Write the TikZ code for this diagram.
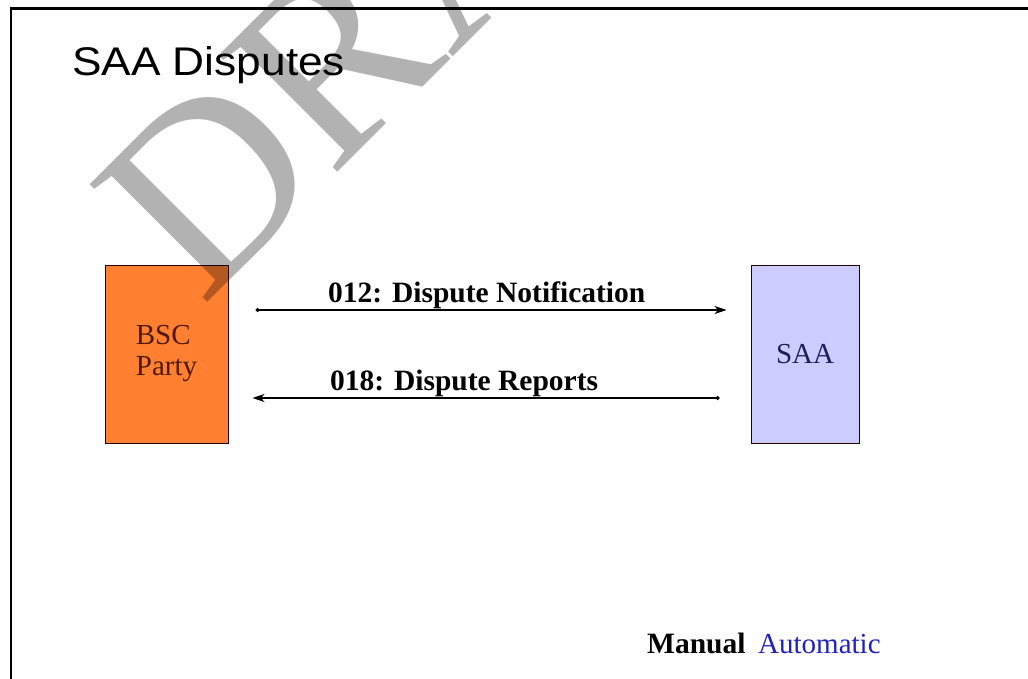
\documentclass[tikz,border=0pt]{standalone}
\usepackage{fontspec}
\setmainfont{Liberation Serif}
\newfontfamily\arialf{Liberation Sans}
\usetikzlibrary{arrows.meta}
\definecolor{boxorange}{RGB}{255,128,48}
\definecolor{saablue}{RGB}{204,204,255}
\definecolor{bsctext}{RGB}{80,24,0}
\definecolor{saatext}{RGB}{30,30,90}
\definecolor{autoblue}{RGB}{34,34,187}
\begin{document}
\begin{tikzpicture}[x=1pt,y=-1pt,
  entity/.style={draw=black!85!red, line width=1pt, minimum width=123pt, minimum height=178pt,
    inner sep=0pt, font=\fontsize{29}{31}\selectfont, align=left},
  msg/.style={line width=1.2pt},
  lbl/.style={anchor=base west, inner sep=0pt, font=\bfseries\fontsize{29.5}{31}\selectfont},
  plain/.style={anchor=base west, inner sep=0pt, font=\fontsize{29}{31}\selectfont},
  dottip/.tip={Circle[length=4pt]},
  headtip/.tip={Stealth[length=12pt,width=8pt,inset=3.5pt]}
]
\useasboundingbox (0,0) rectangle (1028,679);
\fill[white] (0,0) rectangle (1028,679);
\draw[line width=2.5pt] (11,679) -- (11,8.5) -- (1028,8.5);

\node[entity, fill=boxorange, text=bsctext] (bsc) at (166.5,354) {BSC\\Party};
\node[entity, fill=saablue, text=saatext, minimum width=108pt] (saa) at (805,354) {SAA};

\node[rotate=45, anchor=base west, inner sep=0pt, text=black, text opacity=0.3,
  font=\fontsize{254}{254}\selectfont] (wm) at (202,308) {DRAFT};

\node[anchor=base west, inner sep=0pt, font=\arialf\fontsize{40}{40}\selectfont] (title) at (72,76)
  {\scalebox{1.106}[1]{SAA Disputes}};

\draw[msg, dottip-headtip] ([shift={(27,-44)}]bsc.east) -- ([shift={(-24,-44)}]saa.west);
\draw[msg, headtip-dottip] ([shift={(24,44)}]bsc.east) -- ([shift={(-31,44)}]saa.west);

\node[lbl] (m1) at (328,302) {012: Dispute Notification};
\node[lbl] (m2) at (330,390) {018: Dispute Reports};
\node[lbl] (man) at (647,653) {Manual};
\node[plain, text=autoblue] (auto) at (758,653) {Automatic};
\end{tikzpicture}
\end{document}
